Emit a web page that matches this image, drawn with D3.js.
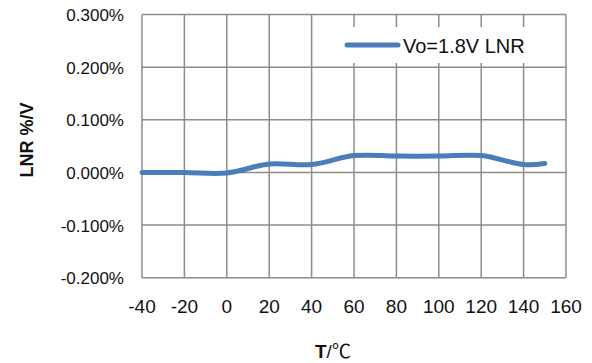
<!DOCTYPE html>
<html><head><meta charset="utf-8">
<script src="https://cdn.jsdelivr.net/npm/d3@7/dist/d3.min.js"></script>
<style>body{margin:0;background:#fff}svg{display:block}</style>
</head><body>
<script>
const temps = [-40, -20, 0, 20, 40, 60, 80, 100, 120, 140, 150];
const lnr = [0.000, 0.000, -0.001, 0.016, 0.015, 0.032, 0.031, 0.031, 0.032, 0.015, 0.017];
const xTicks = [-40, -20, 0, 20, 40, 60, 80, 100, 120, 140, 160];
const yTicks = [-0.2, -0.1, 0, 0.1, 0.2, 0.3];
const seriesName = "Vo=1.8V LNR";

const W = 592, H = 363;
const m = {l: 142, r: 566, t: 14.5, b: 277.7};
const svg = d3.select("body").append("svg").attr("width", W).attr("height", H);
const x = d3.scaleLinear().domain([-40, 160]).range([m.l, m.r]);
const y = d3.scaleLinear().domain([-0.2, 0.3]).range([m.b, m.t]);
const font = "Liberation Sans, Arial, sans-serif";
const grid = "#8c8c8c";

const g = svg.append("g");
g.selectAll(".vg").data(xTicks).join("line")
  .attr("x1", d => x(d)).attr("x2", d => x(d)).attr("y1", m.t).attr("y2", m.b)
  .attr("stroke", grid).attr("stroke-width", 1.5);
g.selectAll(".hg").data(yTicks).join("line")
  .attr("x1", m.l).attr("x2", m.r).attr("y1", d => y(d)).attr("y2", d => y(d))
  .attr("stroke", grid).attr("stroke-width", 1.5);

// legend box (white) covering gridlines
const lg = svg.append("g");
lg.append("rect").attr("x", 330).attr("y", 27).attr("width", 230).attr("height", 36).attr("fill", "#fff");
lg.append("line").attr("x1", 347).attr("x2", 398).attr("y1", 45).attr("y2", 45)
  .attr("stroke", "#4a7ebb").attr("stroke-width", 5).attr("stroke-linecap", "round");
lg.append("text").attr("x", 403).attr("y", 52.5).attr("font-family", font).attr("font-size", 20)
  .attr("fill", "#111").text(seriesName);

const pts = temps.map((t, i) => [t, lnr[i]]);
svg.append("path").datum(pts)
  .attr("d", d3.line().x(d => x(d[0])).y(d => y(d[1])).curve(d3.curveCatmullRom.alpha(0.5)))
  .attr("fill", "none").attr("stroke", "#4a7ebb").attr("stroke-width", 5).attr("stroke-linecap", "round");

// y tick labels
svg.selectAll(".yl").data(yTicks).join("text")
  .attr("x", 124).attr("y", d => y(d) + 6.5).attr("text-anchor", "end")
  .attr("font-family", font).attr("font-size", 17).attr("fill", "#111")
  .text(d => d3.format(".3f")(d).replace("\u2212", "-") + "%");
// x tick labels
svg.selectAll(".xl").data(xTicks).join("text")
  .attr("x", d => x(d)).attr("y", 313).attr("text-anchor", "middle")
  .attr("font-family", font).attr("font-size", 19).attr("fill", "#111")
  .text(d => d);

// axis titles
svg.append("text").attr("transform", "translate(33,140) rotate(-90)").attr("text-anchor", "middle")
  .attr("font-family", font).attr("font-size", 18).attr("font-weight", "bold").attr("fill", "#111")
  .text("LNR %/V");
const xt = svg.append("text").attr("x", 315).attr("y", 358).attr("font-family", font).attr("font-size", 19).attr("fill", "#111");
xt.append("tspan").attr("font-weight", "bold").text("T");
xt.append("tspan").text("/");
xt.append("tspan").attr("font-family", "Noto Sans CJK SC, sans-serif").text("℃");
</script>
</body></html>
